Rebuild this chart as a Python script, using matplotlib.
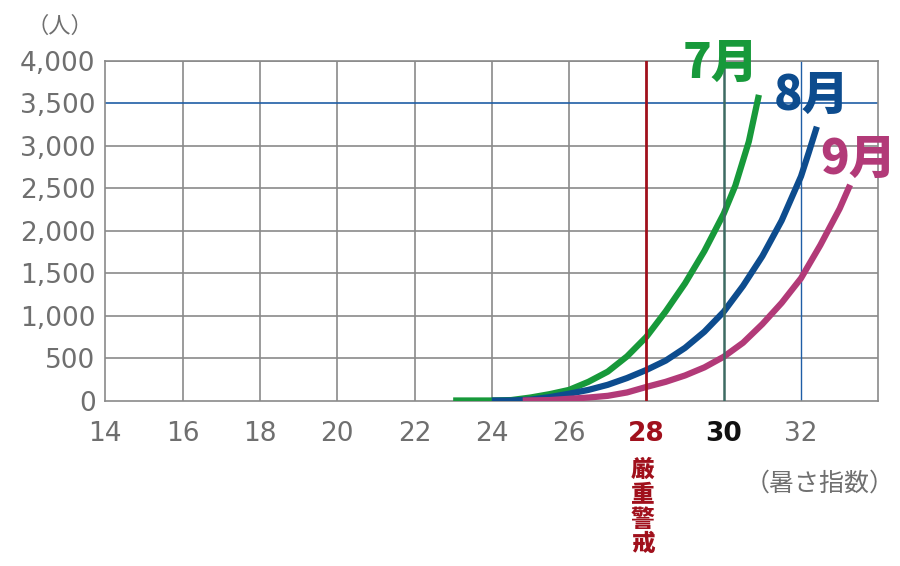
import matplotlib.pyplot as plt

plt.rcParams['font.family'] = ['Noto Sans CJK JP', 'DejaVu Sans']

# 暑さ指数 (WBGT) vs number of people
jul_x = [23, 23.5, 24, 24.5, 25, 25.5, 26, 26.5, 27, 27.5, 28, 28.5, 29, 29.5, 30, 30.3, 30.65, 30.91]
jul_y = [0, 0, 0, 5, 35, 75, 125, 220, 340, 520, 750, 1050, 1380, 1760, 2200, 2530, 3050, 3600]

aug_x = [24, 24.5, 25, 25.5, 26, 26.5, 27, 27.5, 28, 28.5, 29, 29.5, 30, 30.5, 31, 31.5, 32, 32.2, 32.41]
aug_y = [0, 0, 10, 40, 80, 125, 185, 265, 360, 470, 620, 810, 1045, 1350, 1700, 2120, 2640, 2920, 3225]

sep_x = [24.8, 25.5, 26, 26.5, 27, 27.5, 28, 28.5, 29, 29.5, 30, 30.5, 31, 31.5, 32, 32.5, 33, 33.27]
sep_y = [0, 5, 20, 35, 55, 95, 160, 220, 295, 390, 515, 680, 900, 1150, 1440, 1830, 2260, 2540]

x_ticks = [14, 16, 18, 20, 22, 24, 26, 28, 30, 32]
y_ticks = [0, 500, 1000, 1500, 2000, 2500, 3000, 3500, 4000]

green = '#17993a'
blue = '#0d4c8e'
pink = '#b23a78'
red = '#a0101c'
gray = '#6f6f6f'

fig = plt.figure(figsize=(9, 5.66), dpi=100)
ax = fig.add_axes([0.117, 0.2924, 0.8589, 0.6])
ax.set_xlim(14, 34)
ax.set_ylim(0, 4000)

# plain gray grid
for x in x_ticks[1:7]:
    ax.axvline(x, color='#8a8a8a', lw=1.2, zorder=1)
for y in y_ticks[1:]:
    if y != 3500:
        ax.axhline(y, color='#8a8a8a', lw=1.2, zorder=1)
ax.axhline(3500, color='#1f5ea6', lw=1.2, zorder=1)
ax.axvline(32, color='#1f5ea6', lw=1.0, zorder=1)

for xs, ys, c in [(jul_x, jul_y, green), (aug_x, aug_y, blue), (sep_x, sep_y, pink)]:
    ax.plot(xs, ys, color=c, lw=4.5, solid_capstyle='butt',
            solid_joinstyle='round', zorder=3)

ax.axvline(28, color=red, lw=2, zorder=4)
ax.axvline(30, color='#3d6b63', lw=1.8, zorder=4)

for s in ax.spines.values():
    s.set_color('#8a8a8a')
    s.set_linewidth(1.2)

ax.set_xticks(x_ticks)
ax.set_yticks(y_ticks)
ax.set_yticklabels([f'{v:,}' for v in y_ticks])
ax.tick_params(length=0, labelsize=19, labelcolor=gray)
ax.tick_params(axis='y', pad=7)
ax.tick_params(axis='x', pad=15)
for lab in ax.get_xticklabels() + ax.get_yticklabels():
    lab.set_family('DejaVu Sans')
for lab in ax.get_xticklabels():
    if lab.get_text() == '28':
        lab.set_color(red)
        lab.set_fontweight('bold')
    elif lab.get_text() == '30':
        lab.set_color('#111111')
        lab.set_fontweight('bold')

ax.text(29.93, 3970, '7月', color=green, fontsize=34, fontweight='heavy',
        ha='center', va='center', zorder=5)
ax.text(32.27, 3587, '8月', color=blue, fontsize=34, fontweight='heavy',
        ha='center', va='center', zorder=5)
ax.text(33.49, 2839, '9月', color=pink, fontsize=34, fontweight='heavy',
        ha='center', va='center', zorder=5)

fig.text(0.714, 0.192, '厳\n重\n警\n戒', color=red, fontsize=17, fontweight='heavy',
         ha='center', va='top', linespacing=1.02)
fig.text(0.911, 0.145, '（暑さ指数）', color=gray, fontsize=18, ha='center', va='center')
fig.text(0.066, 0.953, '（人）', color=gray, fontsize=16, ha='center', va='center')

fig.savefig('out.png', dpi=100, facecolor='white')
